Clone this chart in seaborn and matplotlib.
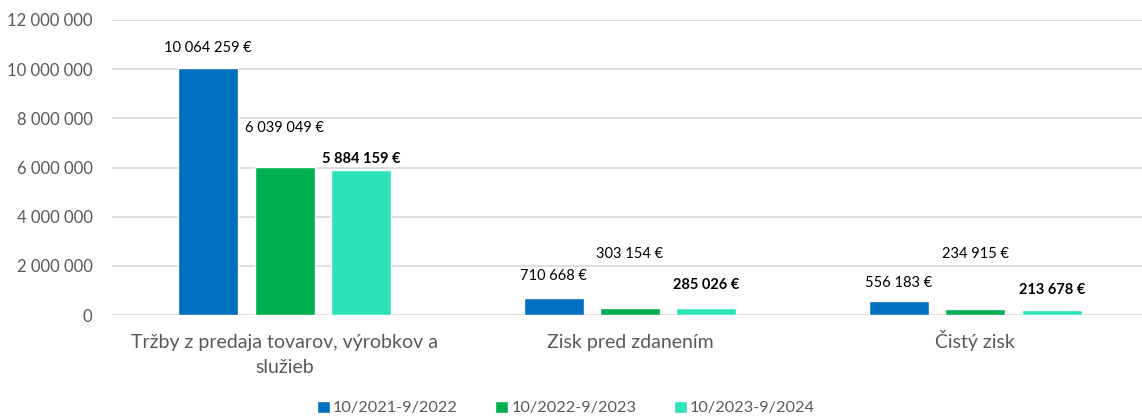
import numpy as np
import pandas as pd
import seaborn as sns
import matplotlib.pyplot as plt
from matplotlib.ticker import FuncFormatter

# data
categories = ['Tržby z predaja tovarov, výrobkov a\nslužieb', 'Zisk pred zdanením', 'Čistý zisk']
periods = ['10/2021-9/2022', '10/2022-9/2023', '10/2023-9/2024']
v_2022 = [10064259, 710668, 556183]
v_2023 = [6039049, 303154, 234915]
v_2024 = [5884159, 285026, 213678]

colors = ['#0070C0', '#00B050', '#2CE2B7']
# label offset above bar top (pixels), per period / category
label_offsets = [[20, 22, 18], [39, 54, 55], [11, 23, 20]]

df = pd.DataFrame({
    'category': categories * 3,
    'period': np.repeat(periods, 3),
    'value': v_2022 + v_2023 + v_2024,
})

sns.set_style('white')
plt.rcParams['font.family'] = ['Lato', 'DejaVu Sans']

fig = plt.figure(figsize=(11.42, 4.16), dpi=100)
ax = fig.add_axes([112 / 1142, 101 / 416, 1036 / 1142, 295 / 416])

sns.barplot(data=df, x='category', y='value', hue='period', palette=colors,
            width=0.664, gap=0.214, ax=ax, legend=True, saturation=1)

ax.set_ylim(0, 12e6)
ax.set_xlim(-0.5, 2.5)
ax.set_yticks(np.arange(0, 12e6 + 1, 2e6))
ax.yaxis.set_major_formatter(FuncFormatter(lambda v, p: f'{int(v):,}'.replace(',', ' ')))
ax.grid(axis='y', color='#d9d9d9', linewidth=1.2)
ax.set_axisbelow(True)
for s in ax.spines.values():
    s.set_visible(False)
ax.tick_params(axis='y', length=0, labelsize=12, labelcolor='#595959', pad=14)
ax.set_xticks(range(len(categories)), [''] * len(categories))
ax.tick_params(axis='x', length=0)
ax.set_xlabel('')
ax.set_ylabel('')

# category labels, each line on a common baseline
for i, cat in enumerate(categories):
    for k, line in enumerate(cat.split('\n')):
        ax.annotate(line, (i, 0), xycoords=('data', 'axes fraction'),
                    xytext=(0, -(33 + 25 * k) * 0.72), textcoords='offset points',
                    ha='center', va='baseline', fontsize=14, color='#595959')

for i, cont in enumerate(ax.containers):
    for j, bar in enumerate(cont):
        val = bar.get_height()
        txt = f'{int(val):,}'.replace(',', ' ') + ' €'
        ax.annotate(txt, (bar.get_x() + bar.get_width() / 2, val),
                    xytext=(0, label_offsets[i][j] * 0.72), textcoords='offset points',
                    ha='center', va='center', fontsize=10.5, color='black',
                    fontweight='bold' if i == 2 else 'normal')

ax.legend(loc='center', bbox_to_anchor=(566 / 1142, 1 - 408 / 416),
          bbox_transform=fig.transFigure, ncol=3, frameon=False,
          fontsize=11.7, handlelength=0.8, handleheight=0.8, handletextpad=0.2,
          columnspacing=2.3, labelcolor='#595959')

fig.savefig('out.png', dpi=100)
